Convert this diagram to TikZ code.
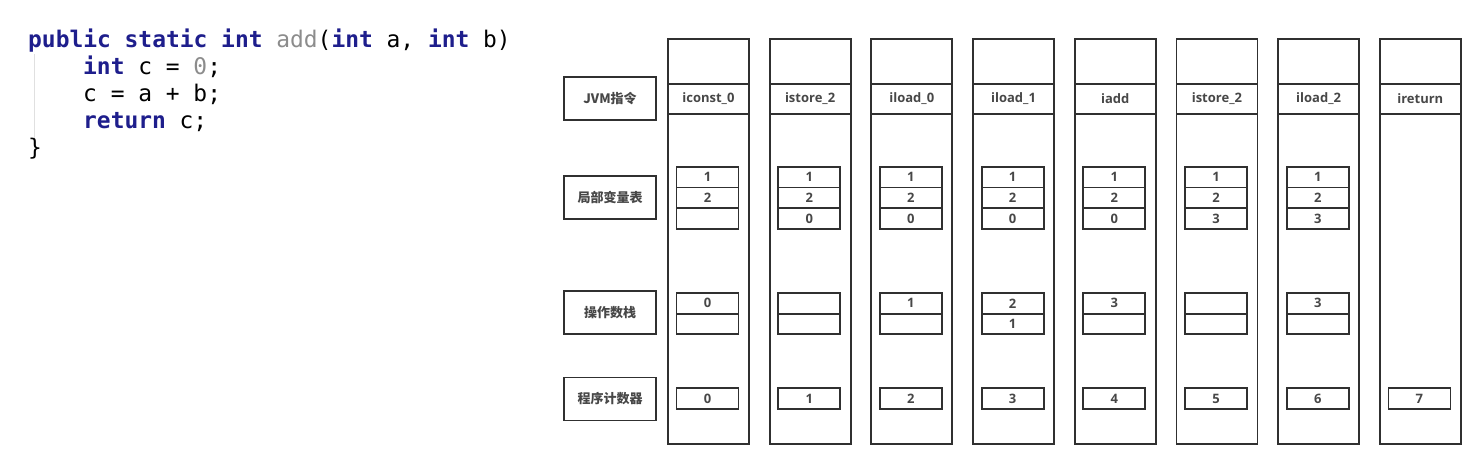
\documentclass[tikz,border=0pt]{standalone}
\usepackage{fontspec}
\setmainfont{Open Sans}
\setmonofont{DejaVu Sans Mono}
\newfontfamily\cjkfont{Noto Sans CJK SC}
\usetikzlibrary{calc, positioning}

\definecolor{kwblue}{HTML}{1E1E8C}
\definecolor{codegray}{HTML}{8C8C8C}
\definecolor{boxline}{HTML}{303030}
\newcommand{\kw}[1]{\textcolor{kwblue}{\textbf{#1}}}

\tikzset{
  box/.style={draw=boxline, line width=1.8pt, inner sep=0pt},
  cell/.style={box, minimum width=62pt, minimum height=20.6pt,
    font=\bfseries\fontsize{13}{13}\selectfont, text=black!72},
  column/.style={box, minimum width=81pt, minimum height=405pt},
  instr/.style={box, minimum width=81pt, minimum height=30pt,
    font=\bfseries\fontsize{13}{13}\selectfont, text=black!72},
  rowlabel/.style={box, minimum width=92pt, minimum height=43pt,
    font=\cjkfont\bfseries\fontsize{13}{13}\selectfont, text=black!72},
  codeline/.style={anchor=base west, inner sep=0pt,
    font=\ttfamily\fontsize{22.9}{22.9}\selectfont}
}

\begin{document}
\begin{tikzpicture}[x=1pt,y=-1pt]
      \useasboundingbox (0,0) rectangle (1479,462);

      % the java method
      \draw[black!12, line width=1pt] (34,54)--(34,140);
      \node[codeline] (code1) at (28,48) {\kw{public} \kw{static} \kw{int} \textcolor{codegray}{add}(\kw{int} a, \kw{int} b)};
      \node[codeline] (code2) at (83,75) {\kw{int} c = \textcolor{codegray}{0};};
      \node[codeline] (code3) at (83,102) {c = a + b;};
      \node[codeline] (code4) at (83,129) {\kw{return} c;};
      \node[codeline] (code5) at (28,156) {\}};

      % row labels
      \node[rowlabel] (jvm) at (610,98.5) {JVM指令};
      \node[rowlabel] (locals) at (610,197.5) {局部变量表};
      \node[rowlabel] (stack) at (610,312.5) {操作数栈};
      \node[rowlabel] (counter) at (610,399) {程序计数器};

      % one column per instruction
      \foreach \ins [count=\i from 0] in {iconst\_0, istore\_2, iload\_0, iload\_1, iadd, istore\_2, iload\_2, ireturn} {
        \coordinate (C\i) at ({667+101.7*\i},38);
        \node[column, anchor=north west] (col\i) at (C\i) {};
        \node[instr, anchor=north west] (ins\i) at ($(C\i)+(0,45)$) {\ins};
        \node[cell] (pc\i) at ($(C\i)+(40.5,360.5)$) {\i};
      }

      % local variables and operand stack
      \foreach \la/\lb/\lc/\sa/\sb [count=\i from 0] in {1/2/{}/0/{}, 1/2/0/{}/{}, 1/2/0/1/{}, 1/2/0/2/1, 1/2/0/3/{}, 1/2/3/{}/{}, 1/2/3/3/{}} {
        \node[cell] (var\i a) at ($(C\i)+(40.5,139.3)$) {\la};
        \node[cell] (var\i b) at ($(C\i)+(40.5,159.9)$) {\lb};
        \node[cell] (var\i c) at ($(C\i)+(40.5,180.5)$) {\lc};
        \node[cell] (op\i a) at ($(C\i)+(40.5,265.3)$) {\sa};
        \node[cell] (op\i b) at ($(C\i)+(40.5,285.9)$) {\sb};
      }
    \end{tikzpicture}
\end{document}
